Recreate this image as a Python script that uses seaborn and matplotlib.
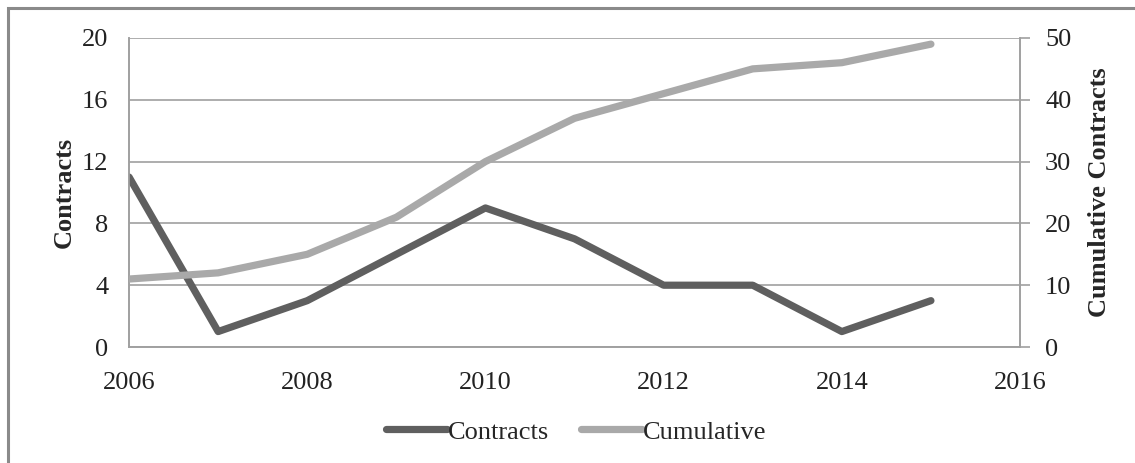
import matplotlib
matplotlib.use("Agg")
import matplotlib.pyplot as plt
import seaborn as sns
import pandas as pd
from matplotlib.patches import Rectangle
from matplotlib.lines import Line2D

years = [2006, 2007, 2008, 2009, 2010, 2011, 2012, 2013, 2014, 2015]
contracts = [11, 1, 3, 6, 9, 7, 4, 4, 1, 3]
cumulative = [11, 12, 15, 21, 30, 37, 41, 45, 46, 49]

df = pd.DataFrame({"Year": years, "Contracts": contracts, "Cumulative": cumulative})

sns.set_style("white")
plt.rcParams["font.family"] = ["Liberation Serif", "DejaVu Serif"]

dark = "#5f5f5f"
light = "#a9a9a9"
grid_c = "#a0a0a0"
fs = 19

fig = plt.figure(figsize=(11.35, 4.63), dpi=100)
ax = fig.add_axes([0.1137, 0.2505, 0.785, 0.6675])
ax2 = ax.twinx()

sns.lineplot(data=df, x="Year", y="Contracts", ax=ax, color=dark, lw=5.2,
             solid_capstyle="round", zorder=3)
sns.lineplot(data=df, x="Year", y="Cumulative", ax=ax2, color=light, lw=5.2,
             solid_capstyle="round", zorder=3)

ax.set_xlim(2006, 2016)
ax.set_ylim(0, 20)
ax2.set_ylim(0, 50)
ax.set_xticks([2006, 2008, 2010, 2012, 2014, 2016])
ax.set_yticks([0, 4, 8, 12, 16, 20])
ax2.set_yticks([0, 10, 20, 30, 40, 50])

ax.yaxis.grid(True, color=grid_c, lw=1.2)
ax.set_axisbelow(True)

for a in (ax, ax2):
    a.spines["top"].set_visible(False)
    for side in ("left", "right", "bottom"):
        a.spines[side].set_color(grid_c)
        a.spines[side].set_linewidth(1.2)
    a.tick_params(labelsize=fs, colors="#222222", length=0)
ax.tick_params(axis="y", pad=15)
ax2.tick_params(axis="y", length=7, color=grid_c, width=1.2, pad=11)
ax.tick_params(axis="x", pad=18)

ax.set_xlabel("")
ax.set_ylabel("Contracts", fontsize=fs, fontweight="bold", labelpad=4)
ax2.set_ylabel("Cumulative Contracts", fontsize=fs, fontweight="bold", labelpad=12)

handles = [Line2D([0], [0], color=dark, lw=5.2, solid_capstyle="round"),
           Line2D([0], [0], color=light, lw=5.2, solid_capstyle="round")]
fig.legend(handles, ["Contracts", "Cumulative"], loc="center",
           bbox_to_anchor=(0.508, 0.067), ncol=2, frameon=False, fontsize=fs,
           handlelength=2.3, handletextpad=0.05, columnspacing=1.2)

fig.patches.append(Rectangle((8 / 1135, -0.2), 1.2, 1.2 - 8 / 463,
                             transform=fig.transFigure, fill=False,
                             edgecolor="#8a8a8a", lw=2.2))

fig.savefig("out.png", dpi=100)
